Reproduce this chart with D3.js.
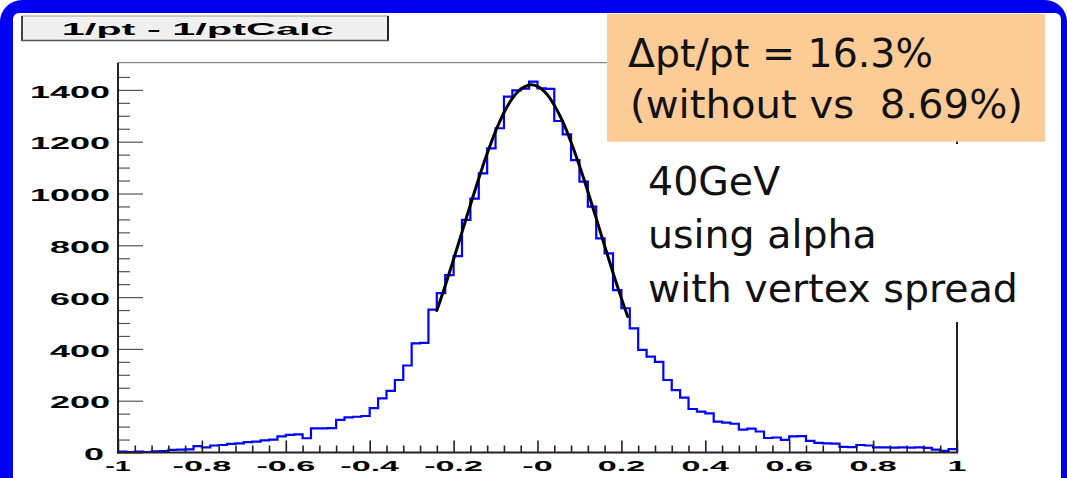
<!DOCTYPE html>
<html><head><meta charset="utf-8">
<script src="https://cdn.jsdelivr.net/npm/d3@7"></script>
<style>
body{margin:0;background:#fff;overflow:hidden;}
svg{display:block;}
text{white-space:pre;}
</style>
</head><body>
<svg id="chart" width="1067" height="478"></svg>
<script>
// ---- data ----
const histTitle = "1/pt - 1/ptCalc";
const binStart = -1;
const binWidth = 0.02;
const counts = [
  3, 2, 3, 2, 4, 5, 10, 11, 12, 25,
  20, 27, 29, 33, 35, 40, 42, 47, 50, 62,
  68, 70, 55, 93, 93, 94, 126, 136, 138, 141,
  171, 209, 238, 280, 336, 421, 423, 552, 615, 685,
  758, 898, 980, 1078, 1174, 1252, 1374, 1398, 1405, 1432,
  1406, 1404, 1280, 1228, 1129, 1046, 949, 827, 769, 627,
  557, 479, 396, 370, 350, 280, 241, 212, 168, 158,
  151, 119, 115, 111, 88, 92, 81, 56, 58, 49,
  62, 63, 45, 37, 35, 34, 22, 21, 29, 27,
  20, 20, 19, 20, 19, 20, 18, 11, 6, 13
];
const fitX = [-0.24,-0.22,-0.20,-0.18,-0.16,-0.14,-0.12,-0.10,-0.08,-0.06,-0.04,-0.02,0.00,0.02,0.04,0.06,0.08,0.10,0.12,0.14,0.16,0.18,0.20,0.215];
const fitY = [548,644,746,851,956,1058,1154,1240,1312,1367,1403,1419,1414,1388,1341,1278,1198,1107,1008,904,798,694,595,525];
const yTicks = [0,200,400,600,800,1000,1200,1400];
const yTickLabels = ["0","200","400","600","800","1000","1200","1400"];
const xTicks = [-1,-0.8,-0.6,-0.4,-0.2,0,0.2,0.4,0.6,0.8,1];
const xTickLabels = ["-1","-0.8","-0.6","-0.4","-0.2","-0","0.2","0.4","0.6","0.8","1"];
const noteResolution = ["\u0394pt/pt = 16.3%", "(without vs  8.69%)"];
const noteConditions = ["40GeV", "using alpha", "with vertex spread"];

// ---- drawing ----
const svg = d3.select("#chart");
const W = 1067, H = 478;

// blue slide frame
svg.append("rect").attr("x",0).attr("y",0).attr("width",W).attr("height",H+40).attr("rx",22).attr("fill","#0000f0");
svg.append("rect").attr("x",13).attr("y",13).attr("width",W-19).attr("height",H+40).attr("rx",6).attr("fill","#ffffff");

const x = d3.scaleLinear().domain([-1, 1]).range([118, 957]);
const y = d3.scaleLinear().domain([0, 1505]).range([452.5, 62.7]);

// frame top & right
svg.append("line").attr("x1",x(-1)).attr("x2",x(1)).attr("y1",y(1505)).attr("y2",y(1505))
  .attr("stroke","#8a8a8a").attr("stroke-width",1.2);
svg.append("line").attr("x1",x(1)).attr("x2",x(1)).attr("y1",y(1505)).attr("y2",y(0))
  .attr("stroke","#222").attr("stroke-width",2);

// histogram
const pts = counts.map((c,i)=>[binStart + i*binWidth, c]);
pts.push([binStart + counts.length*binWidth, counts[counts.length-1]]);
svg.append("path")
  .attr("d", d3.line().x(d=>x(d[0])).y(d=>y(d[1])).curve(d3.curveStepAfter)(pts))
  .attr("fill","none").attr("stroke","#0000ff").attr("stroke-width",2.2);

// fit
svg.append("path")
  .attr("d", d3.line().x((d,i)=>x(fitX[i])).y(d=>y(d)).curve(d3.curveCatmullRom)(fitY))
  .attr("fill","none").attr("stroke","#000").attr("stroke-width",3).attr("stroke-linecap","round");

// y axis
const yMinor = d3.range(0, 1451, 50).filter(v => v % 200 !== 0);
const gyMin = svg.append("g").attr("transform","translate(118,0)")
  .call(d3.axisLeft(y).tickValues(yMinor).tickSizeInner(-12).tickSizeOuter(0).tickFormat(""));
const gy = svg.append("g").attr("transform","translate(118,0)")
  .call(d3.axisLeft(y).tickValues(yTicks).tickSizeInner(-25).tickSizeOuter(0).tickFormat(""));
[gyMin, gy].forEach(g => { g.select(".domain").remove(); g.selectAll("line").attr("stroke","#555").attr("stroke-width",1.2); });

// x axis
const xMinor = d3.range(0, 51).map(k => -1 + k*0.04).filter(v => Math.abs(Math.round(v*5) - v*5) > 1e-6);
const gxMin = svg.append("g").attr("transform","translate(0,452.5)")
  .call(d3.axisBottom(x).tickValues(xMinor).tickSizeInner(-7).tickSizeOuter(0).tickFormat(""));
const gx = svg.append("g").attr("transform","translate(0,452.5)")
  .call(d3.axisBottom(x).tickValues(xTicks).tickSizeInner(-12).tickSizeOuter(0).tickFormat(""));
[gxMin, gx].forEach(g => { g.select(".domain").remove(); g.selectAll("line").attr("stroke","#222").attr("stroke-width",1.6); });

// axis lines
svg.append("line").attr("x1",x(-1)).attr("x2",x(-1)).attr("y1",y(1505)).attr("y2",y(0)+1)
  .attr("stroke","#222").attr("stroke-width",2);
svg.append("line").attr("x1",x(-1)-1).attr("x2",x(1)+1).attr("y1",y(0)).attr("y2",y(0))
  .attr("stroke","#222").attr("stroke-width",2);

// tick labels (ROOT bold font, stretched horizontally as in the picture)
const labFont = "'Liberation Sans', Arial, sans-serif";
svg.append("g").selectAll("text").data(yTicks).join("text")
  .attr("transform", (d,i) => `translate(${i===0 ? 104 : 110},${y(d)+7.8}) scale(2.25,1)`)
  .attr("text-anchor","end").attr("font-family",labFont).attr("font-weight","bold")
  .attr("font-size",16).attr("fill","#000")
  .text((d,i)=>yTickLabels[i]);
svg.append("g").selectAll("text").data(xTicks).join("text")
  .attr("transform", (d,i) => `translate(${x(d)},471) scale(${i===0 ? 1.85 : 2.2},1)`)
  .attr("text-anchor","middle").attr("font-family",labFont).attr("font-weight","bold")
  .attr("font-size",15.5).attr("fill","#000")
  .text((d,i)=>xTickLabels[i]);

// title box
svg.append("rect").attr("x",22).attr("y",16).attr("width",366).attr("height",24.5)
  .attr("fill","#f0f0f0").attr("stroke","#9a9a9a").attr("stroke-width",1);
svg.append("line").attr("x1",22).attr("x2",22).attr("y1",16).attr("y2",41).attr("stroke","#222").attr("stroke-width",1.6);
svg.append("line").attr("x1",388).attr("x2",388).attr("y1",16).attr("y2",41).attr("stroke","#222").attr("stroke-width",2);
svg.append("line").attr("x1",22).attr("x2",389).attr("y1",40.5).attr("y2",40.5).attr("stroke","#555").attr("stroke-width",1.4);
svg.append("text").attr("x",61.7).attr("y",35)
  .attr("font-family",labFont).attr("font-weight","bold").attr("font-size",16.3)
  .attr("textLength",272).attr("lengthAdjust","spacingAndGlyphs").text(histTitle);

// orange note
svg.append("rect").attr("x",607).attr("y",14).attr("width",438).attr("height",127.7).attr("fill","#fdcb96");
const noteFont = "'DejaVu Sans', Verdana, sans-serif";
svg.append("g").selectAll("text").data(noteResolution).join("text")
  .attr("x",(d,i)=> i===0 ? 628 : 630).attr("y",(d,i)=>66.7 + i*51.6)
  .attr("font-family",noteFont).attr("font-size",39.5).attr("fill","#111")
  .attr("textLength",(d,i)=> i===0 ? 305 : 393).attr("lengthAdjust","spacingAndGlyphs")
  .text(d=>d);

// white note
svg.append("rect").attr("x",638).attr("y",144).attr("width",408).attr("height",178).attr("fill","#ffffff");
svg.append("g").selectAll("text").data(noteConditions).join("text")
  .attr("x",648).attr("y",(d,i)=>195 + i*53.4)
  .attr("font-family",noteFont).attr("font-size",39.5).attr("fill","#111")
  .text(d=>d);
</script>
</body></html>
